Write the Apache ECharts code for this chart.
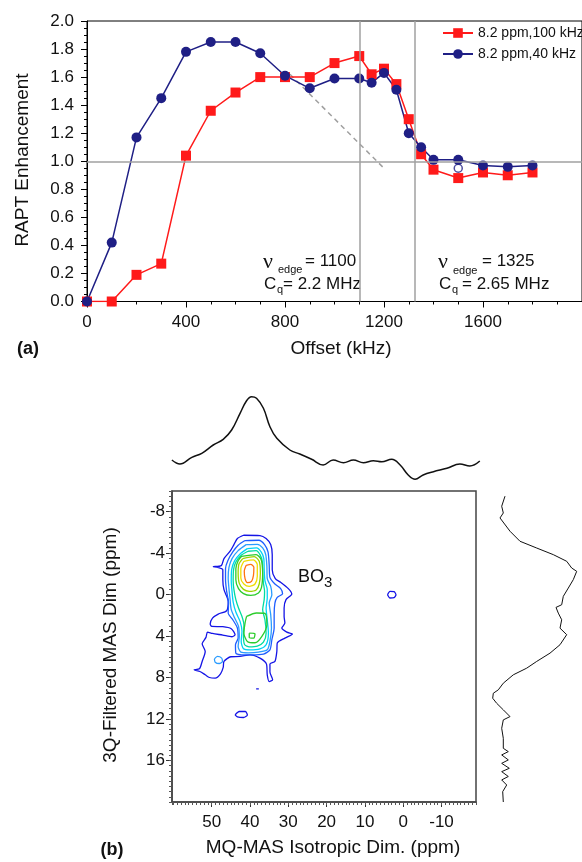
<!DOCTYPE html>
<html>
<head>
<meta charset="utf-8">
<script src="https://cdn.jsdelivr.net/npm/echarts@6/dist/echarts.min.js"></script>
<style>
  html, body { margin: 0; padding: 0; background: #fff; }
  #chart { width: 582px; height: 862px; }
</style>
</head>
<body>
<div id="chart"></div>
<script>
// (a) RAPT enhancement vs offset
const offsets = [0, 100, 200, 300, 400, 500, 600, 700, 800, 900, 1000, 1100, 1150, 1200, 1250, 1300, 1350, 1400, 1500, 1600, 1700, 1800]
const red100 = [0, 0, 0.19, 0.27, 1.04, 1.36, 1.49, 1.60, 1.60, 1.60, 1.70, 1.75, 1.62, 1.66, 1.55, 1.30, 1.05, 0.94, 0.88, 0.92, 0.90, 0.92]
const blue40 = [0, 0.42, 1.17, 1.45, 1.78, 1.85, 1.85, 1.77, 1.61, 1.52, 1.59, 1.59, 1.56, 1.63, 1.51, 1.20, 1.10, 1.01, 1.01, 0.97, 0.96, 0.97]
const openPoint = [[1500, 0.95]]
const dashX = [820, 1200]
const dashY = [1.62, 0.95]
const edges = [1100, 1325]
const xTicksA = [0, 400, 800, 1200, 1600]

// (b) MQ-MAS projections, ppm
const topIso = [60.4, 58.3, 55.2, 52.6, 49.6, 47.0, 44.8, 42.6, 40.9, 39.6, 38.3, 36.5, 34.8, 33.0, 29.6, 27.0, 23.9, 20.9, 18.3, 15.6, 13.0, 10.4, 7.8, 5.6, 3.0, 0.8, -1.3, -3.1, -5.2, -7.9, -11.4, -14.8, -17.4, -20.0]
const topInt = [20, 16, 22.7, 26.7, 35, 40.7, 50, 66.7, 79.3, 83.3, 81.7, 71.7, 53.3, 41.7, 30, 26, 20.7, 15, 20, 17.3, 20, 17.3, 19.3, 18.3, 20.7, 15, 5, 0.7, 5, 8.3, 11.7, 16, 14, 19]
const sideMas = [-9.5, -8.53, -7.88, -7.40, -6.12, -5.15, -4.50, -3.86, -3.22, -2.57, -2.25, -1.45, -0.64, 0.16, 0.97, 1.23, 1.78, 2.42, 3.23, 3.86, 4.83, 5.64, 6.44, 7.09, 7.73, 8.54, 9.18, 9.51, 9.99, 10.48, 11.11, 11.76, 12.08, 12.89, 13.86, 14.82, 15.14, 15.46, 15.94, 16.27, 16.75, 17.07, 17.54, 17.87, 18.36, 19.0, 20.0]
const sideInt = [15, 11.7, 13.3, 10, 20, 30, 46.7, 63.3, 76.7, 81.7, 86.7, 83.3, 78.3, 73.3, 71.7, 66, 68.3, 71.7, 70, 76.7, 70, 60, 46.7, 36.7, 23.3, 13.3, 8.3, 3.3, 2.7, 6.7, 13.3, 20, 13.3, 11.7, 13.3, 13.3, 18.3, 11.7, 18.3, 11.7, 19.3, 11.7, 18.3, 11.7, 16.7, 12.7, 13.3]
const isoTicks = [50, 40, 30, 20, 10, 0, -10]
const masTicks = [-8, -4, 0, 4, 8, 12, 16]

// contour levels [iso ppm, MAS ppm], outermost first
const level1 = [[41.7, -5.73], [37.4, -5.70], [35.8, -5.41], [34.6, -4.83], [34.2, -3.86], [34.2, -2.41], [33.4, -1.54], [32.0, -1.19], [30.0, -0.58], [29.1, -0.06], [30.6, 0.48], [31.1, 1.29], [31.1, 2.10], [30.9, 2.74], [31.7, 3.22], [30.4, 3.61], [28.9, 3.80], [30.9, 4.19], [32.9, 4.67], [33.0, 5.48], [33.5, 6.44], [34.8, 6.70], [34.8, 7.47], [34.1, 8.21], [35.0, 8.38], [35.5, 7.73], [35.7, 6.70], [37.4, 6.12], [40.0, 5.80], [42.6, 5.96], [45.0, 5.99], [46.8, 6.44], [47.0, 7.02], [47.7, 7.64], [49.1, 8.05], [50.6, 7.99], [51.7, 7.73], [53.1, 7.41], [54.6, 7.25], [53.2, 7.15], [52.5, 6.44], [51.7, 5.48], [52.5, 4.74], [51.5, 4.12], [51.1, 3.61], [49.8, 3.74], [47.1, 3.90], [44.7, 4.06], [43.9, 3.87], [44.9, 3.29], [47.1, 3.09], [50.0, 3.06], [50.4, 2.84], [49.8, 2.26], [48.3, 1.87], [46.1, 1.55], [45.7, 0.65], [46.8, -0.48], [47.1, -1.45], [47.1, -2.41], [48.5, -2.64], [49.6, -2.70], [47.5, -2.80], [46.8, -3.48], [45.2, -4.19], [44.2, -4.83], [43.3, -5.41]]
const level2 = [[41.3, -5.22], [37.7, -5.25], [36.2, -4.83], [35.3, -4.12], [35.0, -2.90], [34.8, -1.67], [33.5, -1.03], [32.0, -0.58], [31.5, -0.10], [32.9, 0.26], [33.5, 0.81], [33.7, 1.93], [33.7, 3.22], [34.3, 4.35], [34.8, 5.32], [36.5, 5.73], [39.6, 5.80], [42.2, 5.80], [43.7, 5.64], [43.8, 4.83], [43.1, 4.19], [43.3, 3.22], [44.5, 2.42], [45.7, 1.77], [45.6, 0.81], [46.1, -0.32], [46.4, -1.45], [46.4, -2.51], [45.8, -3.28], [44.5, -4.12], [43.1, -4.77]]
const level3 = [[41.0, -4.83], [38.1, -4.86], [36.7, -4.51], [35.9, -3.86], [35.6, -2.74], [35.5, -1.54], [34.6, -0.80], [34.3, 0.0], [35.0, 0.81], [34.6, 1.93], [34.4, 3.22], [34.8, 4.51], [35.5, 5.32], [37.8, 5.54], [40.4, 5.61], [42.4, 5.54], [43.1, 4.99], [42.8, 4.03], [43.0, 3.06], [44.0, 2.26], [44.9, 1.45], [45.2, 0.48], [45.5, -0.58], [45.7, -1.61], [45.5, -2.64], [44.7, -3.48], [43.1, -4.25]]
const level4 = [[40.7, -4.44], [38.3, -4.51], [37.1, -4.12], [36.4, -3.48], [36.3, -2.41], [36.1, -1.35], [35.5, -0.48], [35.5, 0.32], [35.8, 1.29], [35.5, 2.42], [35.2, 3.71], [35.8, 4.83], [37.4, 5.22], [40.0, 5.32], [41.7, 5.22], [42.3, 4.51], [42.1, 3.54], [42.6, 2.58], [43.7, 1.68], [44.4, 0.71], [44.7, -0.32], [44.9, -1.35], [44.8, -2.41], [44.0, -3.28], [42.6, -3.93]]
const level5 = [[40.5, -4.19], [38.4, -4.25], [37.4, -3.86], [36.8, -3.22], [36.7, -2.09], [36.5, -1.13], [36.2, -0.32], [36.3, 0.48], [36.7, 1.45], [36.1, 2.42], [35.8, 3.71], [36.5, 4.58], [38.1, 4.96], [40.2, 5.03], [41.4, 4.83], [41.7, 4.03], [41.6, 2.90], [42.1, 2.10], [43.0, 1.29], [43.7, 0.48], [44.2, -0.48], [44.4, -1.35], [44.3, -2.41], [43.7, -3.15], [42.3, -3.80]]
const level6Top = [[42.2, -3.70], [38.4, -3.86], [37.1, -3.38], [36.7, -2.09], [37.0, -0.71], [37.8, -0.16], [39.8, 0.07], [41.7, -0.10], [43.0, -0.58], [43.7, -1.45], [43.7, -2.51], [43.1, -3.28]]
const level6Low = [[40.9, 2.10], [38.3, 1.77], [36.1, 1.81], [35.6, 2.90], [36.9, 4.03], [38.7, 4.64], [40.7, 4.51], [41.6, 3.71], [41.3, 2.74]]
const level6Dot = [[40.2, 3.71], [38.7, 3.77], [39.0, 4.19], [40.2, 4.12]]
const level7 = [[41.9, -3.48], [38.9, -3.67], [37.6, -3.22], [37.3, -2.09], [37.6, -1.03], [38.4, -0.45], [40.2, -0.32], [41.7, -0.51], [42.8, -1.09], [43.1, -2.09], [42.9, -2.96]]
const level8 = [[41.6, -3.22], [39.1, -3.35], [38.1, -2.90], [38.1, -1.77], [38.7, -1.03], [40.2, -0.80], [41.6, -1.03], [42.4, -1.61], [42.4, -2.51]]
const level9 = [[41.0, -2.83], [39.8, -2.93], [39.0, -2.64], [39.1, -1.87], [39.6, -1.29], [40.7, -1.16], [41.3, -1.54], [41.5, -2.25]]
const islandLeft = [[49.3, 6.19], [48.5, 5.96], [47.4, 6.12], [47.2, 6.44], [48.0, 6.64], [49.1, 6.51]]
const islandLow = [[43.9, 11.60], [42.8, 11.27], [41.2, 11.27], [40.7, 11.60], [41.7, 11.85], [43.3, 11.79]]
const islandRight = [[4.1, 0.0], [3.45, -0.32], [2.4, -0.29], [1.9, 0.0], [2.4, 0.29], [3.45, 0.32]]
const islandDash = [[38.4, 9.08], [37.7, 9.08]]

const contours = [
  { pts: level1, color: '#1414e6' },
  { pts: level2, color: '#1f5eff' },
  { pts: level3, color: '#2a9cff' },
  { pts: level4, color: '#00d2f5' },
  { pts: level5, color: '#00dca0' },
  { pts: level6Top, color: '#2ccc2c' },
  { pts: level6Low, color: '#2ccc2c' },
  { pts: level6Dot, color: '#2ccc2c' },
  { pts: level7, color: '#9cd400' },
  { pts: level8, color: '#f0dc00' },
  { pts: level9, color: '#ff7410' },
  { pts: islandLeft, color: '#2a9cff' },
  { pts: islandLow, color: '#1414e6' },
  { pts: islandRight, color: '#1414e6' },
  { pts: islandDash, color: '#1414e6', open: true },
]

const FONT = 'Liberation Sans'
const RED = '#ff1a1a'
const NAVY = '#1f1f85'
const GRAY = '#a0a0a0'

const chart = echarts.init(document.getElementById('chart'))

const txt = (x, y, text, size, extra = {}) => ({
  type: 'text',
  x,
  y,
  rotation: extra.rotation || 0,
  style: {
    text,
    fontSize: size,
    fontFamily: extra.family || FONT,
    fontWeight: extra.weight || 'normal',
    fill: '#111',
    align: extra.align || 'left',
    verticalAlign: 'middle',
  },
})

const contourSeries = contours.map((c) => ({
  type: 'line',
  xAxisIndex: 2,
  yAxisIndex: 2,
  data: c.open ? c.pts : [...c.pts, c.pts[0]],
  symbol: 'none',
  smooth: 0.25,
  lineStyle: { color: c.color, width: 1.3 },
  silent: true,
}))

const option = {
  animation: false,
  backgroundColor: '#fff',
  grid: [
    { left: 87, top: 21, width: 517, height: 280.5, show: true, borderColor: '#000', borderWidth: 1 },
    { left: 172, top: 385, width: 308, height: 95 },
    { left: 172, top: 491, width: 304, height: 311, show: true, borderColor: '#444', borderWidth: 1.5 },
    { left: 490, top: 491, width: 92, height: 311 },
  ],
  legend: {
    orient: 'vertical',
    left: 437,
    top: 21,
    itemWidth: 30,
    itemHeight: 12,
    itemGap: 7,
    textStyle: { fontSize: 14, fontFamily: FONT, color: '#111' },
    data: ['8.2 ppm,100 kHz', '8.2 ppm,40 kHz'],
  },
  xAxis: [
    {
      gridIndex: 0, type: 'value', min: 0, max: 2000, interval: 400,
      axisLine: { onZero: false, lineStyle: { color: '#000', width: 1 } },
      axisTick: { length: 6, lineStyle: { color: '#000' } },
      minorTick: { show: true, splitNumber: 4, length: 3, lineStyle: { color: '#000' } },
      axisLabel: { fontSize: 17, fontFamily: FONT, color: '#111', margin: 12, customValues: xTicksA, formatter: (v) => String(v) },
      splitLine: { show: false },
    },
    { gridIndex: 1, type: 'value', inverse: true, min: -20.05, max: 60.37, show: false },
    {
      gridIndex: 2, type: 'value', inverse: true, min: -19, max: 60.37, position: 'bottom',
      axisLine: { onZero: false, lineStyle: { color: '#444', width: 1.5 } },
      axisTick: { length: 5, customValues: isoTicks, lineStyle: { color: '#333' } },
      axisLabel: { fontSize: 17, fontFamily: FONT, color: '#111', margin: 12, customValues: isoTicks },
      splitLine: { show: false },
    },
    {
      gridIndex: 2, type: 'value', inverse: true, min: -19, max: 60.37, interval: 1, position: 'bottom',
      axisLine: { show: false, onZero: false },
      axisTick: { length: 3, lineStyle: { color: '#555' } },
      axisLabel: { show: false },
      splitLine: { show: false },
    },
    { gridIndex: 3, type: 'value', min: 0, max: 92, show: false },
  ],
  yAxis: [
    {
      gridIndex: 0, type: 'value', min: 0, max: 2, interval: 0.2,
      axisLine: { show: true, onZero: false, lineStyle: { color: '#000', width: 1 } },
      axisTick: { show: true, length: 6, lineStyle: { color: '#000' } },
      minorTick: { show: true, splitNumber: 4, length: 3, lineStyle: { color: '#000' } },
      axisLabel: { fontSize: 17, fontFamily: FONT, color: '#111', margin: 13, formatter: (v) => v.toFixed(1) },
      splitLine: { show: false },
    },
    { gridIndex: 1, type: 'value', min: 0, max: 95, show: false },
    {
      gridIndex: 2, type: 'value', inverse: true, min: -10, max: 20, position: 'left',
      axisLine: { show: true, onZero: false, lineStyle: { color: '#444', width: 1.5 } },
      axisTick: { show: true, length: 6, customValues: masTicks, lineStyle: { color: '#333' } },
      axisLabel: { fontSize: 17, fontFamily: FONT, color: '#111', margin: 7, customValues: masTicks },
      splitLine: { show: false },
    },
    {
      gridIndex: 2, type: 'value', inverse: true, min: -10, max: 20, interval: 0.5, position: 'left',
      axisLine: { show: false, onZero: false },
      axisTick: { show: true, length: 3, lineStyle: { color: '#555' } },
      axisLabel: { show: false },
      splitLine: { show: false },
    },
    { gridIndex: 3, type: 'value', inverse: true, min: -10, max: 20, show: false },
  ],
  series: [
    {
      type: 'line',
      xAxisIndex: 0,
      yAxisIndex: 0,
      data: [],
      silent: true,
      markLine: {
        silent: true,
        symbol: 'none',
        label: { show: false },
        lineStyle: { color: GRAY, width: 1.5, type: 'solid' },
        data: [{ yAxis: 1 }, ...edges.map((e) => ({ xAxis: e }))],
      },
    },
    {
      type: 'line',
      xAxisIndex: 0,
      yAxisIndex: 0,
      data: dashX.map((x, i) => [x, dashY[i]]),
      symbol: 'none',
      lineStyle: { color: GRAY, width: 1.5, type: [5, 4] },
      silent: true,
    },
    {
      name: '8.2 ppm,100 kHz',
      type: 'line',
      xAxisIndex: 0,
      yAxisIndex: 0,
      data: offsets.map((x, i) => [x, red100[i]]),
      symbol: 'rect',
      symbolSize: 10,
      itemStyle: { color: RED },
      lineStyle: { color: RED, width: 1.5 },
    },
    {
      name: '8.2 ppm,40 kHz',
      type: 'line',
      xAxisIndex: 0,
      yAxisIndex: 0,
      data: offsets.map((x, i) => [x, blue40[i]]),
      symbol: 'circle',
      symbolSize: 10,
      itemStyle: { color: NAVY },
      lineStyle: { color: NAVY, width: 1.5 },
    },
    {
      type: 'scatter',
      xAxisIndex: 0,
      yAxisIndex: 0,
      data: openPoint,
      symbol: 'circle',
      symbolSize: 8,
      itemStyle: { color: '#fff', borderColor: NAVY, borderWidth: 1.5 },
    },
    {
      type: 'line',
      xAxisIndex: 1,
      yAxisIndex: 1,
      data: topIso.map((x, i) => [x, topInt[i]]),
      symbol: 'none',
      smooth: 0.4,
      lineStyle: { color: '#111', width: 1.5 },
      silent: true,
    },
    {
      type: 'line',
      xAxisIndex: 4,
      yAxisIndex: 4,
      data: sideMas.map((m, i) => [sideInt[i], m]),
      symbol: 'none',
      lineStyle: { color: '#111', width: 1 },
      silent: true,
    },
    ...contourSeries,
  ],
  graphic: [
    txt(23, 160, 'RAPT Enhancement', 19, { rotation: Math.PI / 2, align: 'center' }),
    txt(341, 349, 'Offset (kHz)', 19, { align: 'center' }),
    txt(17, 349, '(a)', 18, { weight: 'bold' }),
    // nu_edge = 1100, Cq = 2.2 MHz
    txt(263, 262, 'ν', 22, { family: 'Liberation Serif' }),
    txt(278, 270, 'edge', 11),
    txt(305, 261, '= 1100', 17),
    txt(264, 284, 'C', 17),
    txt(277, 290, 'q', 11),
    txt(283, 284, '= 2.2 MHz', 17),
    // nu_edge = 1325, Cq = 2.65 MHz
    txt(438, 262, 'ν', 22, { family: 'Liberation Serif' }),
    txt(453, 271, 'edge', 11),
    txt(482, 261, '= 1325', 17),
    txt(439, 284, 'C', 17),
    txt(452, 290, 'q', 11),
    txt(462, 284, '= 2.65 MHz', 17),
    // (b)
    txt(298, 577, 'BO', 18),
    txt(324, 583, '3', 15),
    txt(111, 645, '3Q-Filtered MAS Dim (ppm)', 19, { rotation: Math.PI / 2, align: 'center' }),
    txt(333, 848, 'MQ-MAS Isotropic Dim. (ppm)', 19, { align: 'center' }),
    txt(112, 850, '(b)', 18, { weight: 'bold', align: 'center' }),
  ],
}

chart.setOption(option)
</script>
</body>
</html>
